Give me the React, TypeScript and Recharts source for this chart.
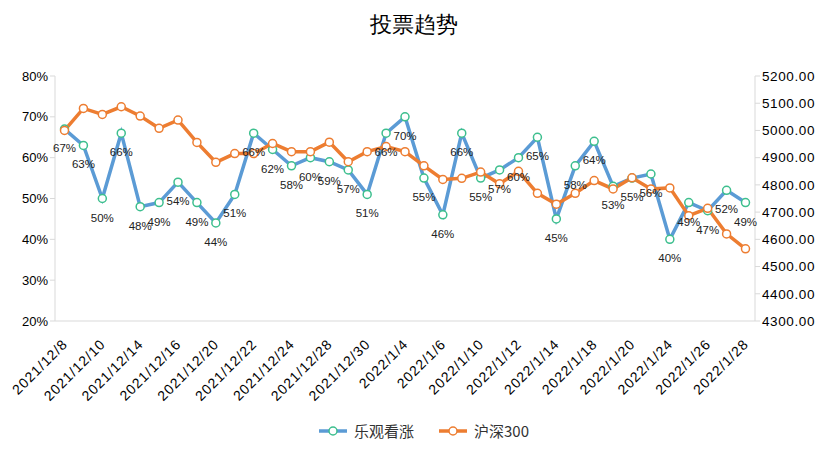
import React from "react";
import { LineChart, Line, XAxis, YAxis, Legend, LabelList } from "recharts";

const dates = [
  "2021/12/8", "2021/12/9", "2021/12/10", "2021/12/13", "2021/12/14", "2021/12/15",
  "2021/12/16", "2021/12/17", "2021/12/20", "2021/12/21", "2021/12/22", "2021/12/23",
  "2021/12/24", "2021/12/27", "2021/12/28", "2021/12/29", "2021/12/30", "2021/12/31",
  "2022/1/4", "2022/1/5", "2022/1/6", "2022/1/7", "2022/1/10", "2022/1/11",
  "2022/1/12", "2022/1/13", "2022/1/14", "2022/1/17", "2022/1/18", "2022/1/19",
  "2022/1/20", "2022/1/21", "2022/1/24", "2022/1/25", "2022/1/26", "2022/1/27",
  "2022/1/28",
];

// 乐观看涨 (%)
const bullish = [
  67, 63, 50, 66, 48, 49, 54, 49, 44, 51, 66, 62, 58, 60, 59, 57, 51, 66, 70,
  55, 46, 66, 55, 57, 60, 65, 45, 58, 64, 53, 55, 56, 40, 49, 47, 52, 49,
];

// 沪深300
const hs300 = [
  5000, 5081, 5059, 5087, 5053, 5008, 5038, 4956, 4883, 4915, 4915, 4952, 4922,
  4922, 4957, 4885, 4922, 4941, 4922, 4870, 4820, 4824, 4847, 4804, 4850, 4769,
  4729, 4769, 4816, 4785, 4826, 4785, 4789, 4687, 4714, 4620, 4565,
];

const leftTicks = [20, 30, 40, 50, 60, 70, 80];
const rightTicks = [4300, 4400, 4500, 4600, 4700, 4800, 4900, 5000, 5100, 5200];

const data = dates.map((d, i) => ({ date: d, bullish: bullish[i], hs300: hs300[i] }));

const FONT = "'Liberation Sans', Arial, sans-serif";
const BLUE = "#5b9bd5";
const ORANGE = "#ed7d31";
const GREEN_MARK = "#3dbf8e";

const DateTick = (props: any) => {
  const { x, y, payload } = props;
  const tx = x + 4;
  const ty = y + 16;
  return (
    <text
      x={tx}
      y={ty}
      transform={`rotate(-45, ${tx}, ${ty})`}
      textAnchor="end"
      fontSize={14}
      letterSpacing={1}
      fontFamily={FONT}
      fill="#000"
    >
      {payload.value}
    </text>
  );
};

const PctLabel = (props: any) => {
  const { x, y, value } = props;
  return (
    <text x={x} y={y + 23} textAnchor="middle" fontSize={11.5} fontFamily={FONT} fill="#222">
      {value}%
    </text>
  );
};

const LegendContent = () => {
  const items = [
    { name: "乐观看涨", color: BLUE, mark: GREEN_MARK },
    { name: "沪深300", color: ORANGE, mark: ORANGE },
  ];
  return (
    <div style={{ display: "flex", justifyContent: "center", gap: 24, paddingLeft: 20 }}>
      {items.map((it) => (
        <div key={it.name} style={{ display: "flex", alignItems: "center" }}>
          <svg width={30} height={12}>
            <line x1={1} y1={6} x2={29} y2={6} stroke={it.color} strokeWidth={3.5} />
            <circle cx={15} cy={6} r={4} fill="#fff" stroke={it.mark} strokeWidth={1.5} />
          </svg>
          <span style={{ marginLeft: 6, fontSize: 15, color: "#333", fontFamily: "'Noto Sans CJK SC', sans-serif" }}>
            {it.name}
          </span>
        </div>
      ))}
    </div>
  );
};

export default function App() {
  return (
    <div style={{ position: "absolute", left: 0, top: 0, width: 827, height: 473, background: "#fff" }}>
      <div
        style={{
          position: "absolute",
          top: 10,
          left: 0,
          width: 827,
          textAlign: "center",
          fontSize: 22,
          fontFamily: "serif",
          color: "#000",
        }}
      >
        投票趋势
      </div>
      <LineChart
        width={827}
        height={473}
        data={data}
        margin={{ top: 76, right: 0, bottom: 32, left: 0 }}
      >
        <XAxis
          dataKey="date"
          interval={1}
          tick={<DateTick />}
          tickLine={false}
          axisLine={{ stroke: "#d9d9d9" }}
          padding={{ left: 9.5, right: 9.5 }}
          height={99}
        />
        <YAxis
          yAxisId="left"
          width={55}
          domain={[20, 80]}
          ticks={leftTicks}
          tickFormatter={(v) => `${v}%`}
          tick={{ fontSize: 13, fill: "#000", fontFamily: FONT }}
          axisLine={{ stroke: "#d9d9d9" }}
          tickLine={{ stroke: "#d9d9d9" }}
          tickSize={5}
        />
        <YAxis
          yAxisId="right"
          orientation="right"
          width={72}
          domain={[4300, 5200]}
          ticks={rightTicks}
          tickFormatter={(v) => `${v}.00`}
          tick={{ fontSize: 13.5, fill: "#000", fontFamily: FONT, letterSpacing: 0.6 }}
          axisLine={{ stroke: "#d9d9d9" }}
          tickLine={{ stroke: "#d9d9d9" }}
          tickSize={5}
        />
        <Legend verticalAlign="bottom" content={<LegendContent />} />
        <Line
          yAxisId="left"
          dataKey="bullish"
          name="乐观看涨"
          stroke={BLUE}
          strokeWidth={3.5}
          dot={{ r: 4, fill: "#fff", stroke: GREEN_MARK, strokeWidth: 1.5 }}
          activeDot={false}
          isAnimationActive={false}
        >
          <LabelList dataKey="bullish" content={<PctLabel />} />
        </Line>
        <Line
          yAxisId="right"
          dataKey="hs300"
          name="沪深300"
          stroke={ORANGE}
          strokeWidth={3.5}
          dot={{ r: 4, fill: "#fff", stroke: ORANGE, strokeWidth: 1.5 }}
          activeDot={false}
          isAnimationActive={false}
        />
      </LineChart>
    </div>
  );
}
